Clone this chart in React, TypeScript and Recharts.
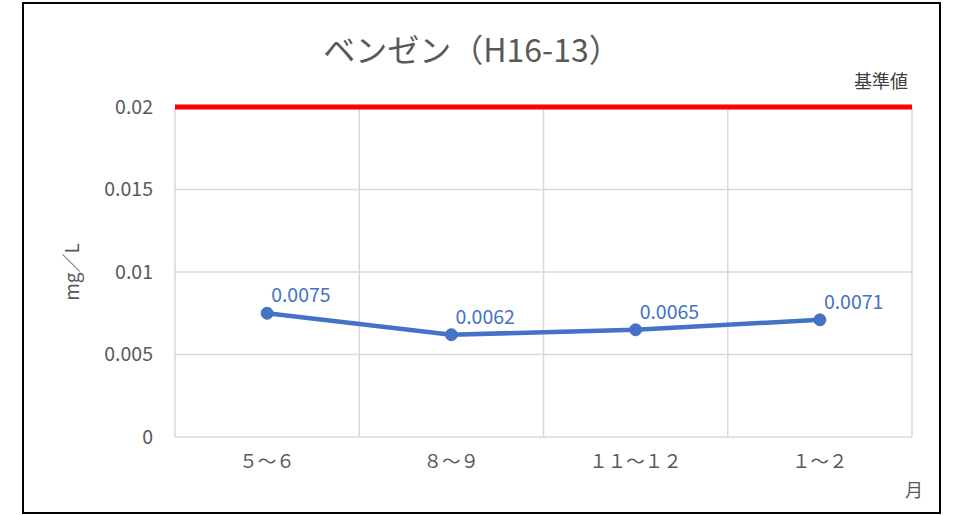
import {
  LineChart, Line, XAxis, YAxis, CartesianGrid,
  ReferenceLine, LabelList, Label,
} from 'recharts'

const months = ['５～６', '８～９', '１１～１２', '１～２']
const benzene = [0.0075, 0.0062, 0.0065, 0.0071]
const yTicks = [0, 0.005, 0.01, 0.015, 0.02]
const limitValue = 0.02

// points sit in the middle of each month slot, grid lines on the slot edges
const data = months.map((m, i) => ({ x: i + 0.5, month: m, value: benzene[i] }))
const slotEdges = months.map((_, i) => i).concat(months.length)
const slotMids = data.map(d => d.x)

const FONT = '"Noto Sans CJK JP", "Noto Sans", sans-serif'
const GRAY_TEXT = '#595959'
const BLUE = '#4472C4'

export default function App() {
  return (
    <div style={{ position: 'absolute', left: 0, top: 0, width: 954, height: 515, background: '#fff' }}>
      <LineChart
        width={954}
        height={515}
        data={data}
        margin={{ top: 107, right: 42, left: 60, bottom: 28 }}
      >
        <CartesianGrid stroke="#d9d9d9" strokeWidth={1.5} />
        <XAxis
          xAxisId={0}
          type="number"
          dataKey="x"
          domain={[0, months.length]}
          ticks={slotEdges}
          interval={0}
          tick={() => <g />}
          tickLine={false}
          height={0}
          axisLine={{ stroke: '#d9d9d9', strokeWidth: 1.5 }}
        />
        <XAxis
          xAxisId="lab"
          type="number"
          dataKey="x"
          domain={[0, months.length]}
          ticks={slotMids}
          tickFormatter={(v: number) => months[Math.floor(v)]}
          axisLine={false}
          tickLine={false}
          height={50}
          tickMargin={12}
          interval={0}
          tick={{ fill: GRAY_TEXT, fontSize: 18.5, fontFamily: FONT }}
        />
        <YAxis
          type="number"
          domain={[0, 0.02]}
          ticks={yTicks}
          width={115}
          axisLine={false}
          tickLine={false}
          tickMargin={16}
          tick={{ fill: GRAY_TEXT, fontSize: 19.5, fontFamily: FONT }}
        >
          <Label
            value="mg／L"
            angle={-90}
            position="insideLeft"
            offset={12}
            style={{ fill: GRAY_TEXT, fontSize: 19, fontFamily: FONT, textAnchor: 'middle' }}
          />
        </YAxis>
        <ReferenceLine
          y={limitValue}
          stroke="#ff0000"
          strokeWidth={5}
          ifOverflow="extendDomain"
          label={(props: any) => {
            const vb = props.viewBox
            return (
              <text
                x={vb.x + vb.width - 4}
                y={vb.y - 19}
                textAnchor="end"
                fill="#404040"
                fontSize={18}
                fontFamily={FONT}
              >
                基準値
              </text>
            )
          }}
        />
        <Line
          type="linear"
          dataKey="value"
          stroke={BLUE}
          strokeWidth={4.5}
          dot={{ r: 6, fill: BLUE, stroke: BLUE, strokeWidth: 1 }}
          activeDot={false}
          isAnimationActive={false}
        >
          <LabelList
            dataKey="value"
            content={(p: any) => (
              <text
                x={p.x + 4}
                y={p.y - 11}
                fill={BLUE}
                fontSize={19.5}
                fontFamily={FONT}
                textAnchor="start"
              >
                {p.value}
              </text>
            )}
          />
        </Line>
        <text x={472} y={62} textAnchor="middle" fill={GRAY_TEXT} fontSize={32} fontFamily={FONT}>
          ベンゼン（H16-13）
        </text>
        <text x={914} y={497} textAnchor="middle" fill={GRAY_TEXT} fontSize={18} fontFamily={FONT}>
          月
        </text>
      </LineChart>
      <div
        style={{
          position: 'absolute', left: 22, top: 2, width: 919, height: 512,
          border: '2px solid #000', boxSizing: 'border-box', pointerEvents: 'none',
        }}
      />
    </div>
  )
}
